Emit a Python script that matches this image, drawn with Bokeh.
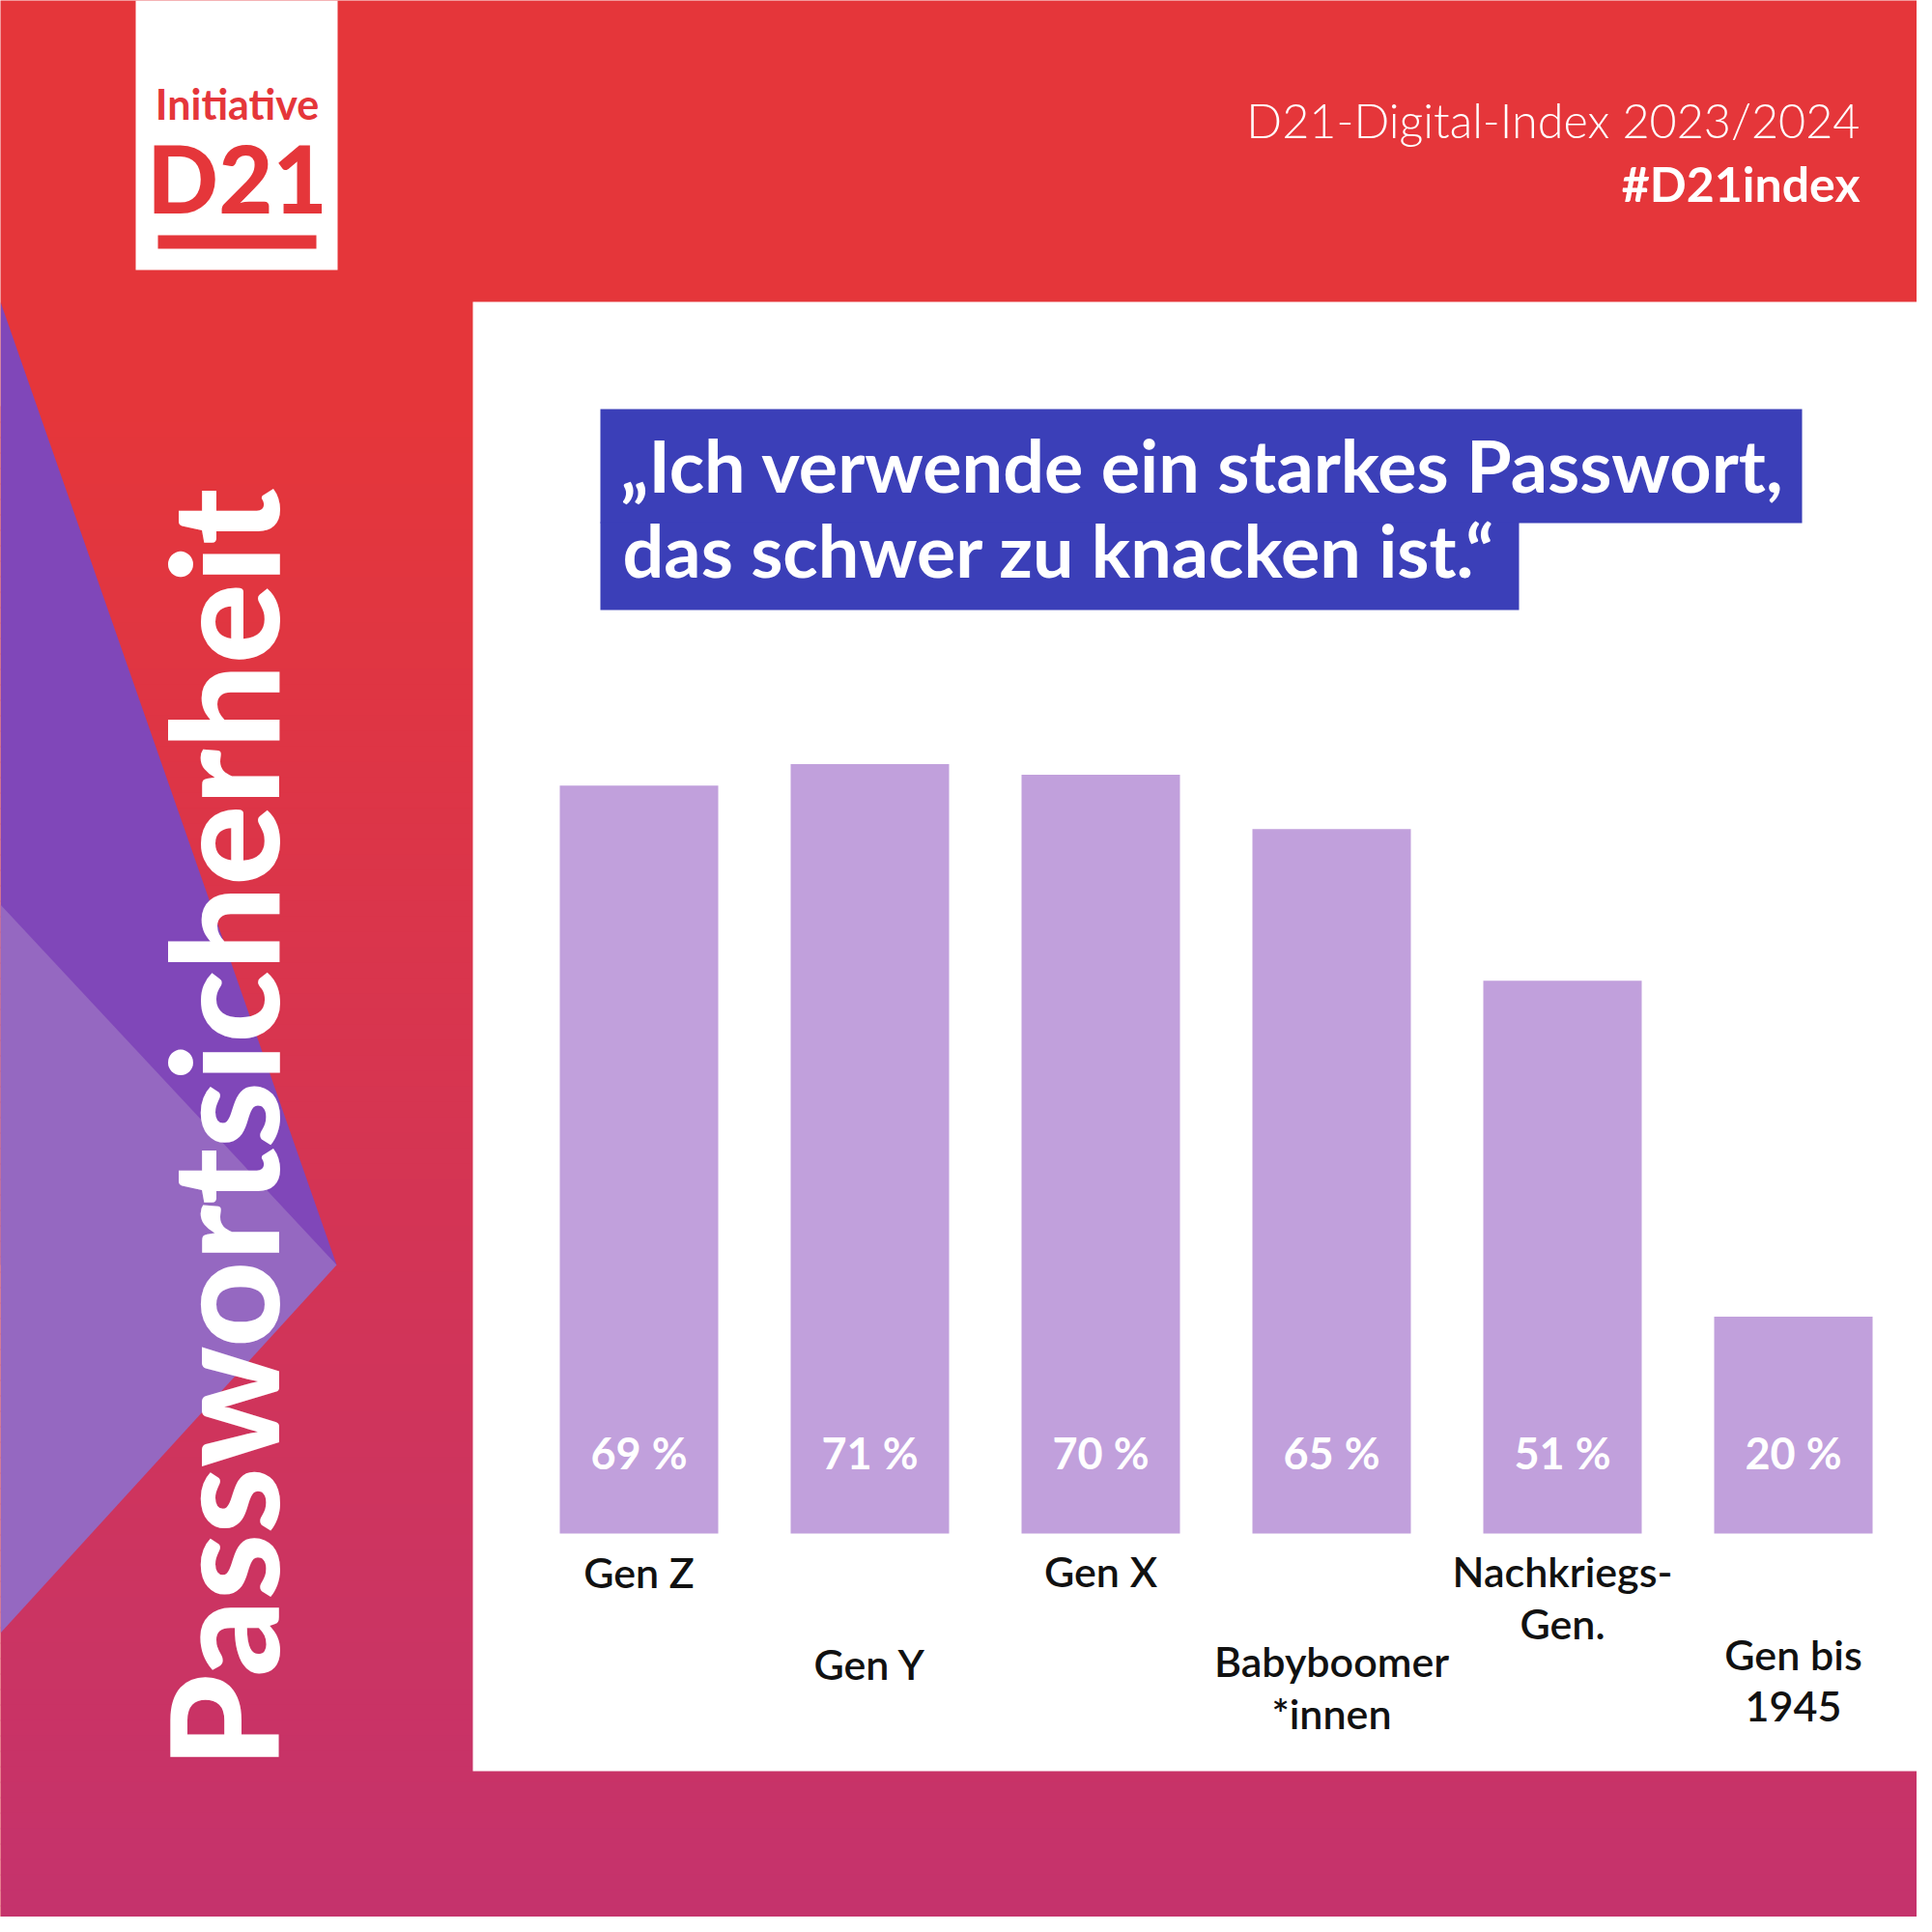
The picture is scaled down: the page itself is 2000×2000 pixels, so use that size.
from bokeh.plotting import figure
from bokeh.models import Range1d
from bokeh.core.properties import value
from bokeh.embed import file_html
from bokeh.resources import INLINE

# ---------------- data ----------------
categories = ["Gen Z", "Gen Y", "Gen X", "Babyboomer\n*innen", "Nachkriegs-\nGen.", "Gen bis\n1945"]
values = [69, 71, 70, 65, 51, 20]
value_labels = ["69 %", "71 %", "70 %", "65 %", "51 %", "20 %"]
title_lines = ["\u201eIch verwende ein starkes Passwort,", "das schwer zu knacken ist.\u201c"]
side_title = "Passwortsicherheit"
header_lines = ["D21-Digital-Index 2023/2024", "#D21index"]
logo_lines = ["Initiative", "D21"]

# ---------------- layout / style ----------------
W = 1984               # canvas covers reference pixels 0..1984 at 1:1
RED = "#E5363A"
BOTTOM = "#C4336D"
DARK_PURPLE = "#8047B9"
LIGHT_PURPLE = "#9568C1"
BLUE = "#3B3FB8"
BAR = "#C1A0DC"
FONT = "Lato"
K = 0.38               # baseline correction (fraction of font size)

def Y(y):
    return 2000 - y

def base(y, size):
    # reference baseline y (top-down) -> data y
    return Y(y - K * size)

p = figure(width=W, height=W, x_range=Range1d(0, W), y_range=Range1d(2000 - W, 2000),
           output_backend="svg", toolbar_location=None, min_border=0,
           x_axis_location=None, y_axis_location=None,
           background_fill_color=RED, border_fill_color=RED)
p.grid.visible = False
p.outline_line_color = None

# background gradient (red -> pink)
def hex2rgb(h):
    return tuple(int(h[i:i + 2], 16) for i in (1, 3, 5))
c0, c1 = hex2rgb(RED), hex2rgb(BOTTOM)
g_start, g_end, step = 420, 2000, 16
tops, bottoms, cols = [], [], []
yy = g_start
while yy < g_end:
    t = (yy - g_start) / (g_end - g_start)
    c = tuple(round(c0[k] + (c1[k] - c0[k]) * t) for k in range(3))
    tops.append(Y(yy))
    bottoms.append(Y(min(yy + step + 1, 2000)))
    cols.append("#%02x%02x%02x" % c)
    yy += step
p.quad(left=0, right=2000, top=tops, bottom=bottoms, fill_color=cols, line_color=None)

# purple triangles
p.patch([0, 348, 0], [Y(312), Y(1309), Y(1309)], fill_color=DARK_PURPLE, line_color=None)
p.patch([0, 348, 0], [Y(936), Y(1309), Y(1690)], fill_color=LIGHT_PURPLE, line_color=None)

# logo
p.quad(left=140, right=349, top=Y(0), bottom=Y(279), fill_color="white", line_color=None)
p.text(x=[245], y=[base(123, 43)], text=[logo_lines[0]], text_font=value(FONT), text_font_style="bold",
       text_font_size="43px", text_color=RED, text_align="center", text_baseline="alphabetic")
p.text(x=[245], y=[base(220, 97)], text=[logo_lines[1]], text_font=value("Lato Black"),
       text_font_size="97px", text_color=RED, text_align="center", text_baseline="alphabetic")
p.quad(left=163, right=327, top=Y(243), bottom=Y(257), fill_color=RED, line_color=None)

# header text
p.text(x=[1925], y=[base(142, 48.5)], text=[header_lines[0]], text_font=value("Lato Light"),
       text_font_size="48.5px", text_color="white", text_align="right", text_baseline="alphabetic")
p.text(x=[1925], y=[base(208, 50)], text=[header_lines[1]], text_font=value(FONT), text_font_style="bold",
       text_font_size="50px", text_color="white", text_align="right", text_baseline="alphabetic")

# side title (rotated, reads bottom-to-top)
side_size = 155
p.text(x=[287 - K * side_size], y=[Y(1830)], text=[side_title], angle=1.5708,
       text_font=value("Lato Black"), text_font_size=f"{side_size}px", text_color="white",
       text_align="left", text_baseline="alphabetic")

# white panel
p.quad(left=489, right=2000, top=Y(312), bottom=Y(1833), fill_color="white", line_color=None)

# title boxes
p.quad(left=[621, 621], right=[1865, 1572], top=[Y(423), Y(540)], bottom=[Y(541), Y(631)],
       fill_color=BLUE, line_color=None)
tsize = 75.5
p.text(x=[642, 644], y=[base(509, tsize), base(597, tsize)], text=title_lines, text_font=value(FONT),
       text_font_style="bold", text_font_size=f"{tsize}px", text_color="white",
       text_align="left", text_baseline="alphabetic")

# ---------------- bar chart (own scales) ----------------
pitch = 239.0
first_center = 661.0
px_per_pct = 11.22
base_y = 1587.0
p.extra_x_ranges = {"bx": Range1d((0 - first_center) / pitch, (W - first_center) / pitch)}
p.extra_y_ranges = {"by": Range1d((base_y - W) / px_per_pct, base_y / px_per_pct)}

idx = list(range(len(categories)))
p.vbar(x=idx, top=values, bottom=0, width=164 / pitch, fill_color=BAR, line_color=None,
       x_range_name="bx", y_range_name="by")

vsize = 45
p.text(x=idx, y=[0] * len(idx), text=value_labels, x_range_name="bx", y_range_name="by",
       y_offset=-(base_y - 1521) - K * vsize, text_font=value(FONT), text_font_style="bold",
       text_font_size=f"{vsize}px", text_color="white", text_align="center", text_baseline="alphabetic")

# category labels (staggered rows)
csize = 43
first_line_offset = [56, 151, 55, 148, 55, 141]
line_gap = 54
lx, lt, lo = [], [], []
for i, cat in enumerate(categories):
    for j, line in enumerate(cat.split("\n")):
        lx.append(i)
        lt.append(line)
        lo.append(first_line_offset[i] + j * line_gap - K * csize)
p.text(x=lx, y=[0] * len(lx), text=lt, y_offset=lo, x_range_name="bx", y_range_name="by",
       text_font=value("Lato Semibold"), text_font_size=f"{csize}px", text_color="#111111",
       text_align="center", text_baseline="alphabetic")

open("out.html", "w").write(file_html(p, INLINE))
